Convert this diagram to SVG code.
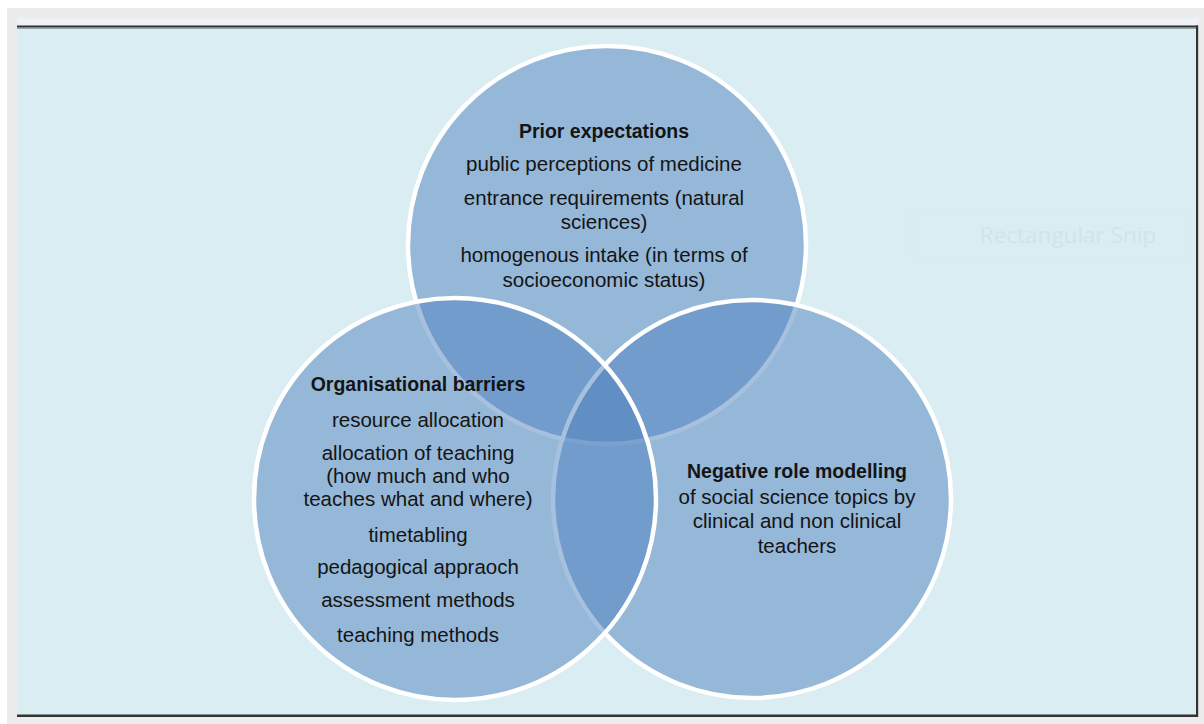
<svg xmlns="http://www.w3.org/2000/svg" width="1204" height="724" viewBox="0 0 1204 724">
  <style>
    .set { fill: rgba(79,129,189,0.5); stroke: #ffffff; stroke-width: 4.5; }
    .lbl { font-family: "Liberation Sans", Arial, sans-serif; font-size: 20.5px; fill: #141414; text-anchor: middle; }
    .hd { font-weight: bold; font-size: 19.5px; }
  </style>

  <!-- page and panel frame -->
  <rect x="0" y="0" width="1204" height="724" fill="#ffffff"/>
  <rect x="7" y="8" width="1197" height="716" fill="#ececec"/>
  <rect x="17" y="18" width="1181" height="8" fill="#eef2f7"/>
  <rect x="17" y="27" width="1180" height="689" fill="#daedf3"/>
  <rect x="17" y="25.5" width="1181" height="2" fill="#2e2e2e"/>
  <rect x="17" y="27.5" width="1181" height="1.2" fill="#76848a"/>
  <rect x="17" y="714.5" width="1181" height="2.5" fill="#333333"/>
  <rect x="1196" y="25.5" width="2.2" height="691.5" fill="#333333"/>

  <!-- faint leftover caption box -->
  <g id="snip-caption">
    <rect x="912" y="213" width="278" height="45" fill="none" stroke="#d6eaf0" stroke-width="1"/>
    <text x="1068" y="243" font-family="'Open Sans', 'Liberation Sans', sans-serif" font-size="22.5" fill="#d0e4eb" text-anchor="middle">Rectangular Snip</text>
  </g>

  <!-- Venn sets: drawn top, right, left -->
  <g id="set-prior">
    <circle class="set" cx="607" cy="245" r="199"/>
  </g>
  <g id="set-negative">
    <circle class="set" cx="752" cy="499" r="199"/>
  </g>
  <g id="set-organisational">
    <circle class="set" cx="455" cy="499" r="201"/>
  </g>

  <!-- labels -->
  <g id="label-prior">
    <text class="lbl hd" x="604" y="138">Prior expectations</text>
    <text class="lbl" x="604" y="171">public perceptions of medicine</text>
    <text class="lbl" x="604" y="205">entrance requirements (natural</text>
    <text class="lbl" x="604" y="229">sciences)</text>
    <text class="lbl" x="604" y="262">homogenous intake (in terms of</text>
    <text class="lbl" x="604" y="287">socioeconomic status)</text>
  </g>
  <g id="label-organisational">
    <text class="lbl hd" x="418" y="391">Organisational barriers</text>
    <text class="lbl" x="418" y="427">resource allocation</text>
    <text class="lbl" x="418" y="460">allocation of teaching</text>
    <text class="lbl" x="418" y="483">(how much and who</text>
    <text class="lbl" x="418" y="506">teaches what and where)</text>
    <text class="lbl" x="418" y="542">timetabling</text>
    <text class="lbl" x="418" y="574">pedagogical appraoch</text>
    <text class="lbl" x="418" y="607">assessment methods</text>
    <text class="lbl" x="418" y="642">teaching methods</text>
  </g>
  <g id="label-negative">
    <text class="lbl hd" x="797" y="478">Negative role modelling</text>
    <text class="lbl" x="797" y="504">of social science topics by</text>
    <text class="lbl" x="797" y="528">clinical and non clinical</text>
    <text class="lbl" x="797" y="553">teachers</text>
  </g>
</svg>
